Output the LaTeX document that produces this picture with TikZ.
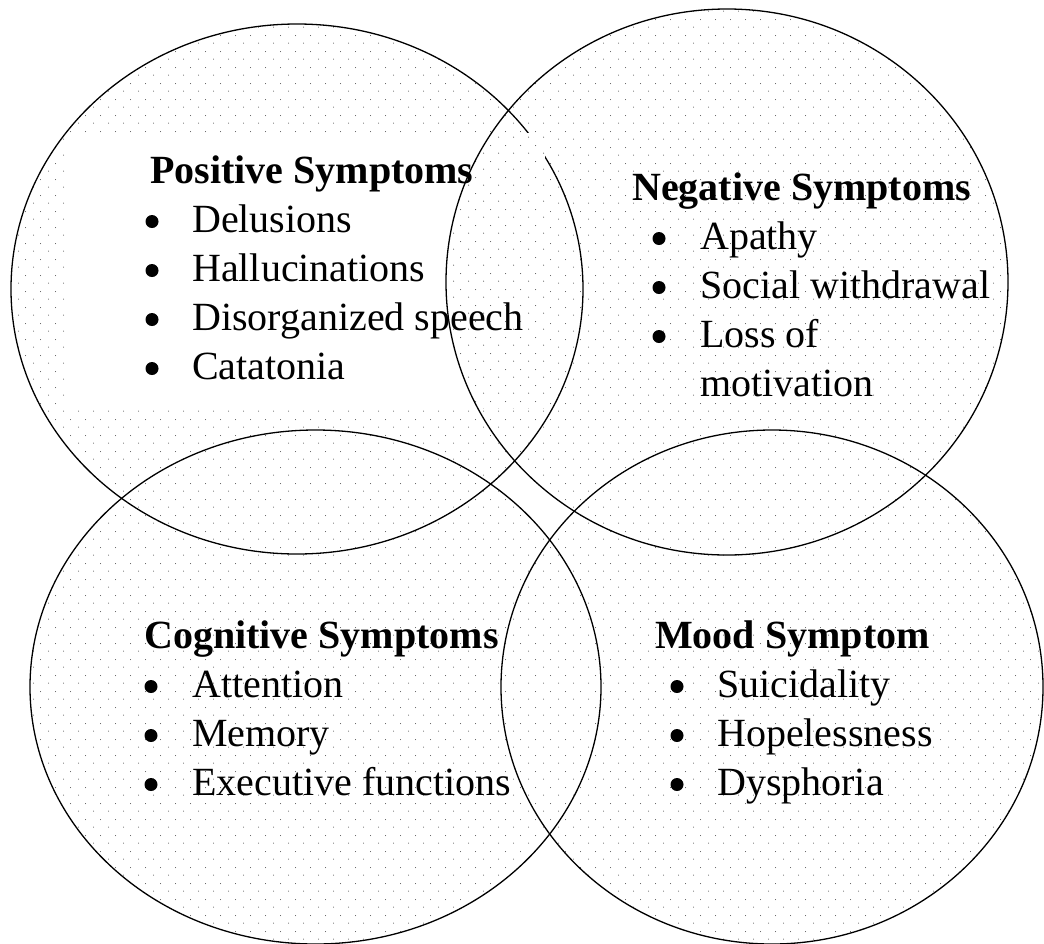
\documentclass[tikz,border=0pt]{standalone}
\usepackage{fontspec}
\setmainfont{Liberation Serif}
\usetikzlibrary{patterns}
\pgfdeclarepatternformonly{vdots}{\pgfpointorigin}{\pgfpoint{15pt}{15.6pt}}{\pgfpoint{15pt}{15.6pt}}{%
  \pgfpathcircle{\pgfpoint{3.75pt}{3.9pt}}{0.55pt}%
  \pgfpathcircle{\pgfpoint{11.25pt}{11.7pt}}{0.55pt}%
  \pgfusepath{fill}}
\begin{document}
\begin{tikzpicture}[x=1pt,y=-1pt,
  dotfill/.style={pattern=vdots, pattern color=black!70},
  outline/.style={draw=black, line width=1.3pt},
  head/.style={anchor=base west, inner sep=0pt, font=\fontsize{40}{48}\selectfont\bfseries},
  item/.style={anchor=base west, inner sep=0pt, font=\fontsize{40}{48}\selectfont},
  bul/.style={fill=black}]
\useasboundingbox (0,0) rectangle (1044,943);
% dotted fill of the union of the four circles (one path, so the dots never double)
\path[dotfill, nonzero rule]
  (297,289) ellipse [x radius=286pt, y radius=265pt]
  (727,282) ellipse [x radius=281pt, y radius=273pt]
  (315.5,687) ellipse [x radius=285.5pt, y radius=257pt]
  (772,687) ellipse [x radius=271pt, y radius=257pt];
% top-left circle outline
\path[outline] (297,289) ellipse [x radius=286pt, y radius=265pt];
% white text area of the top-left circle
\fill[white] (70,133) rectangle (545,408);
% the top-right circle lies over that area: restore its dots there
\begin{scope}
  \clip (70,133) rectangle (545,408);
  \path[dotfill] (727,282) ellipse [x radius=281pt, y radius=273pt];
\end{scope}
% other outlines
\path[outline] (727,282) ellipse [x radius=281pt, y radius=273pt];
\path[outline] (315.5,687) ellipse [x radius=285.5pt, y radius=257pt];
\path[outline] (772,687) ellipse [x radius=271pt, y radius=257pt];
% Positive
\node[head] (ph) at (150,183) {Positive Symptoms};
\fill[bul] (152,221.5) circle[radius=6.5pt];
\node[item] (p1) at (192,232) {Delusions};
\fill[bul] (152,270.5) circle[radius=6.5pt];
\node[item] (p2) at (192,281) {Hallucinations};
\fill[bul] (152,319.5) circle[radius=6.5pt];
\node[item] (p3) at (192,330) {Disorganized speech};
\fill[bul] (152,368.5) circle[radius=6.5pt];
\node[item] (p4) at (192,379) {Catatonia};
% Negative
\node[head] (nh) at (632,200) {Negative Symptoms};
\fill[bul] (659,238.5) circle[radius=6.5pt];
\node[item] (n1) at (700,249) {Apathy};
\fill[bul] (659,287.5) circle[radius=6.5pt];
\node[item] (n2) at (700,298) {Social withdrawal};
\fill[bul] (659,336.5) circle[radius=6.5pt];
\node[item] (n3) at (700,347) {Loss of};
\node[item] (n4) at (700,396) {motivation};
% Cognitive
\node[head] (ch) at (144,648) {Cognitive Symptoms};
\fill[bul] (151,686.5) circle[radius=6.5pt];
\node[item] (c1) at (192,697) {Attention};
\fill[bul] (151,735.5) circle[radius=6.5pt];
\node[item] (c2) at (192,746) {Memory};
\fill[bul] (151,784.5) circle[radius=6.5pt];
\node[item] (c3) at (192,795) {Executive functions};
% Mood
\node[head] (mh) at (655,648) {Mood Symptom};
\fill[bul] (677,686.5) circle[radius=6.5pt];
\node[item] (m1) at (717,697) {Suicidality};
\fill[bul] (677,735.5) circle[radius=6.5pt];
\node[item] (m2) at (717,746) {Hopelessness};
\fill[bul] (677,784.5) circle[radius=6.5pt];
\node[item] (m3) at (717,795) {Dysphoria};
\end{tikzpicture}
\end{document}
